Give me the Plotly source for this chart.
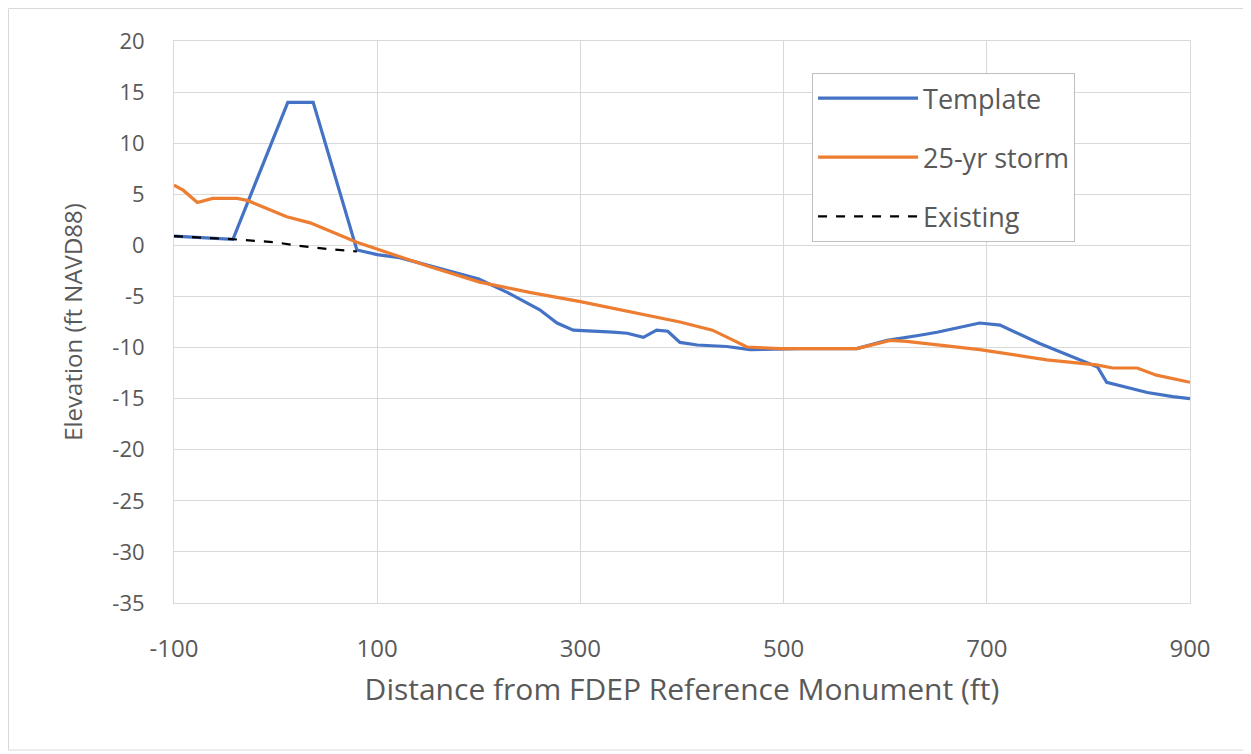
import plotly.graph_objects as go

template_x = [-100, -42, 12, 37, 80, 100, 122, 152, 184, 200, 228, 260, 277, 293, 332, 346, 362, 375, 386, 398, 415, 444, 467, 516, 572, 602, 634, 651, 693, 713, 752, 792, 809, 818, 858, 883, 900]
template_y = [0.9, 0.6, 14.0, 14.0, -0.45, -0.9, -1.2, -2.0, -2.9, -3.3, -4.6, -6.3, -7.6, -8.3, -8.5, -8.6, -9.0, -8.3, -8.4, -9.5, -9.75, -9.9, -10.2, -10.1, -10.1, -9.3, -8.8, -8.5, -7.6, -7.8, -9.6, -11.2, -11.9, -13.4, -14.4, -14.8, -15.0]

storm_x = [-100, -91, -77, -62, -38, -28, 11, 34, 80, 103, 152, 201, 250, 300, 349, 398, 430, 450, 464, 496, 572, 605, 621, 693, 759, 808, 824, 848, 867, 900]
storm_y = [5.9, 5.4, 4.2, 4.6, 4.6, 4.4, 2.8, 2.2, 0.3, -0.45, -2.1, -3.6, -4.6, -5.5, -6.5, -7.5, -8.3, -9.3, -9.95, -10.1, -10.1, -9.3, -9.4, -10.2, -11.2, -11.7, -12.0, -12.0, -12.7, -13.4]

existing_x = [-100, -42, 0, 20, 50, 80]
existing_y = [0.9, 0.6, 0.3, 0.0, -0.35, -0.6]

x_ticks = [-100, 100, 300, 500, 700, 900]
x_labels = ["-100", "100", "300", "500", "700", "900"]
y_ticks = [20, 15, 10, 5, 0, -5, -10, -15, -20, -25, -30, -35]
y_labels = ["20", "15", "10", "5", "0", "-5", "-10", "-15", "-20", "-25", "-30", "-35"]

font_family = "Open Sans, Lato, sans-serif"
grid = "#d9d9d9"
txt = "#595959"

fig = go.Figure()
fig.add_trace(go.Scatter(x=template_x, y=template_y, mode="lines", name="Template",
                         legendgroup="a", line=dict(color="#4472C4", width=3.2)))
fig.add_trace(go.Scatter(x=storm_x, y=storm_y, mode="lines", name="25-yr storm",
                         legendgroup="b", line=dict(color="#ED7D31", width=3.2)))
fig.add_trace(go.Scatter(x=existing_x, y=existing_y, mode="lines", name="Existing",
                         legendgroup="c", line=dict(color="black", width=2.2, dash="dash")))

fig.update_layout(
    width=1251, height=754,
    margin=dict(l=166, r=69, t=33, b=159),
    paper_bgcolor="white", plot_bgcolor="white",
    font=dict(family=font_family, color=txt, size=22),
    showlegend=True,
    legend=dict(x=0.628, y=0.943, xanchor="left", yanchor="top",
                bgcolor="white", bordercolor="#bfbfbf", borderwidth=1,
                font=dict(size=27, color=txt), tracegroupgap=21,
                itemwidth=100),
    xaxis=dict(range=[-100, 900], tickvals=x_ticks, ticktext=x_labels,
               showgrid=True, tickfont=dict(size=24, color=txt),
               gridcolor=grid, gridwidth=1, zeroline=False, showline=True,
               linecolor=grid, mirror=True, ticks="", ticklabelstandoff=24,
               title=dict(text="Distance from FDEP Reference Monument (ft)",
                          font=dict(size=30, color=txt), standoff=16)),
    yaxis=dict(range=[-35, 20], tickvals=y_ticks, ticktext=y_labels,
               showgrid=True, tickfont=dict(size=22, color=txt),
               gridcolor=grid, gridwidth=1, zeroline=False, showline=True,
               linecolor=grid, mirror=True, ticks="", ticklabelstandoff=24,
               title=dict(text="Elevation (ft NAVD88)",
                          font=dict(size=24, color=txt), standoff=22)),
    shapes=[dict(type="rect", xref="paper", yref="paper",
                 x0=-0.1629, x1=1.0571, y0=-0.2616, y1=1.0578,
                 line=dict(color="#d9d9d9", width=1), layer="below")],
)

fig.write_html("out.html")
